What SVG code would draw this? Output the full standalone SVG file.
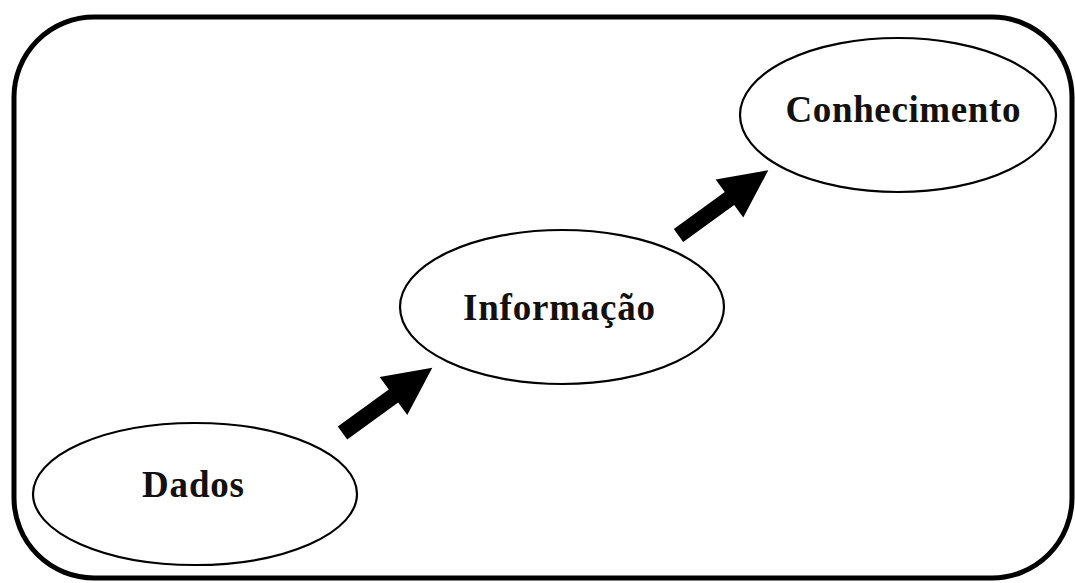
<svg xmlns="http://www.w3.org/2000/svg" width="1075" height="583" viewBox="0 0 1075 583">
<style>
.node{fill:#fff;stroke:#000;stroke-width:2.2}
.lbl{font-family:"Liberation Serif","Times New Roman",serif;font-weight:bold;font-size:37px;fill:#111;text-anchor:middle}
.arrow{fill:#000}
</style>
<defs>
<polygon id="arr" points="0,-8 63,-8 63,-23.5 111,0 63,23.5 63,8 0,8"/>
</defs>
<rect x="14" y="17" width="1058" height="561" rx="80" ry="80" fill="#fff" stroke="#000" stroke-width="5"/>
<g id="connectors">
<use href="#arr" class="arrow" transform="translate(342.5,433) rotate(-36)"/>
<use href="#arr" class="arrow" transform="translate(678.5,235.5) rotate(-36)"/>
</g>
<g id="dados">
<ellipse class="node" cx="195" cy="494" rx="162" ry="71"/>
<text class="lbl" x="193" y="497" textLength="102" lengthAdjust="spacing">Dados</text>
</g>
<g id="informacao">
<ellipse class="node" cx="562" cy="307" rx="162" ry="77"/>
<text class="lbl" x="559" y="320" textLength="192" lengthAdjust="spacing">Informação</text>
</g>
<g id="conhecimento">
<ellipse class="node" cx="898" cy="115" rx="158" ry="77"/>
<text class="lbl" x="903" y="122" textLength="235" lengthAdjust="spacing">Conhecimento</text>
</g>
</svg>
